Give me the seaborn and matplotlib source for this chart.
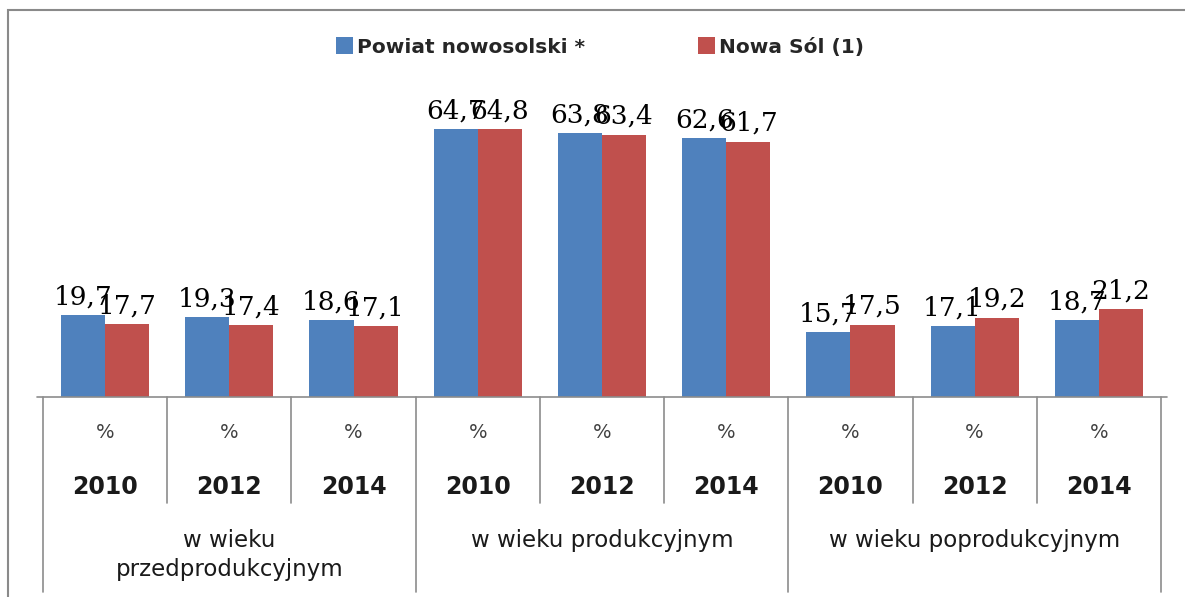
import matplotlib
matplotlib.use("Agg")
import matplotlib.pyplot as plt
import matplotlib.transforms as mtransforms
from matplotlib.patches import Rectangle
import pandas as pd
import seaborn as sns

# chart data
groups = ["w wieku\nprzedprodukcyjnym", "w wieku produkcyjnym", "w wieku poprodukcyjnym"]
years = ["2010", "2012", "2014"]
unit = "%"
series = ["Powiat nowosolski *", "Nowa Sól (1)"]
powiat = [19.7, 19.3, 18.6, 64.7, 63.8, 62.6, 15.7, 17.1, 18.7]
nowa_sol = [17.7, 17.4, 17.1, 64.8, 63.4, 61.7, 17.5, 19.2, 21.2]

colors = ["#4F81BD", "#C0504D"]
line_col = "#8c8c8c"

cats = [f"{g}|{y}" for g in groups for y in years]
df = pd.DataFrame({
    "cat": cats * 2,
    "val": powiat + nowa_sol,
    "series": [series[0]] * len(cats) + [series[1]] * len(cats),
})

sns.set_style("white")
plt.rcParams["font.family"] = ["DejaVu Sans"]

W, H = 1185, 597
fig = plt.figure(figsize=(W / 100, H / 100), dpi=100)

# axes placed in pixel terms: plot from x=43..1161, baseline y=397
px_per_unit = 4.14
ymax = 80
top_px = 397 - ymax * px_per_unit
ax = fig.add_axes([43 / W, 1 - 397 / H, (1161 - 43) / W, (397 - top_px) / H])

sns.barplot(data=df, x="cat", y="val", hue="series", order=cats, hue_order=series,
            palette=colors, saturation=1, width=0.71, linewidth=0, ax=ax)

ax.set_xlim(-0.5, len(cats) - 0.5)
ax.set_ylim(0, ymax)
ax.set_xlabel("")
ax.set_ylabel("")
ax.tick_params(bottom=False, left=False, labelbottom=False, labelleft=False)
for s in ["top", "right", "left", "bottom"]:
    ax.spines[s].set_visible(False)

# value labels with decimal comma
for cont, vals in zip(ax.containers, [powiat, nowa_sol]):
    ax.bar_label(cont, labels=[f"{v:.1f}".replace(".", ",") for v in vals],
                 padding=4, fontsize=19, family="DejaVu Serif", color="black")

# legend
handles, labels = ax.get_legend_handles_labels()
ax.legend(handles, labels, loc="center", bbox_to_anchor=(600 / W, 1 - 47 / H),
          bbox_transform=fig.transFigure, ncol=2, frameon=False,
          handlelength=0.85, handleheight=0.85, handletextpad=0.2,
          columnspacing=5.6, prop={"size": 14.5, "weight": "bold"})

# multi-level category axis drawn as a table under the bars
trans = mtransforms.blended_transform_factory(ax.transData, fig.transFigure)
fy = lambda p: 1 - p / H
ax.plot([-0.55, len(cats) - 0.45], [fy(397), fy(397)], color=line_col, lw=1.2,
        transform=trans, clip_on=False)
for i in range(len(cats) + 1):
    xpos = i - 0.5
    bottom = 592 if i % 3 == 0 else 503
    ax.plot([xpos, xpos], [fy(397), fy(bottom)], color=line_col, lw=1.2,
            transform=trans, clip_on=False)

for i, c in enumerate(cats):
    g, y = c.split("|")
    ax.text(i, fy(433), unit, ha="center", va="center", fontsize=14,
            color="#404040", transform=trans)
    ax.text(i, fy(487), y, ha="center", va="center", fontsize=17,
            fontweight="bold", color="#1a1a1a", transform=trans)

for k, g in enumerate(groups):
    ycen = 555 if "\n" in g else 540
    ax.text(3 * k + 1, fy(ycen), g, ha="center", va="center", fontsize=16.5,
            color="#1a1a1a", linespacing=1.35, transform=trans)

# outer chart frame
fig.patches.append(Rectangle((8 / W, -0.1), 1.2, fy(10) + 0.1, fill=False,
                             edgecolor="#8a8a8a", lw=1.5, transform=fig.transFigure))

fig.savefig("out.png", dpi=100)
